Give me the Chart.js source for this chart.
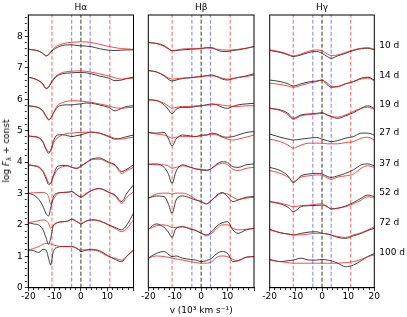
<!DOCTYPE html>
<html>
<head>
<meta charset="utf-8">
<script src="https://cdn.jsdelivr.net/npm/chart.js"></script>
<style>
  html, body { margin: 0; padding: 0; background: #fff; }
  #wrap { position: relative; width: 407px; height: 317px; overflow: hidden; font-family: 'DejaVu Sans'; }
  canvas { position: absolute; top: 0; }
  #ylab { position: absolute; left: 7px; top: 151px; transform: translate(-50%, -50%) rotate(-90deg);
          white-space: nowrap; font-size: 9px; color: #000; line-height: 1; }
  #ylab sub { font-size: 6.5px; vertical-align: -1.5px; }
</style>
</head>
<body>
<div id="wrap">
  <canvas id="cHa" width="140" height="317" style="left:0px"></canvas>
  <canvas id="cHb" width="120" height="317" style="left:140px"></canvas>
  <canvas id="cHg" width="147" height="317" style="left:260px"></canvas>
  <div id="ylab">log <i>F</i><sub>λ</sub> + const</div>
</div>
<script>
// epochs and the offset where each label sits
const epochs = ['10 d', '14 d', '19 d', '27 d', '37 d', '52 d', '72 d', '100 d'];
const epochY = [7.7, 6.75, 5.84, 4.95, 3.96, 3.04, 2.08, 1.13];

// reference velocities (10^3 km/s) marked with dashed lines
const markVel = [-11, -3.5, 0, 3.5, 11];

// H-alpha
const velHa = [-20, -18, -16, -14.5, -13.3, -12.3, -11.5, -10.5, -9, -7, -5, -3.5, -1.5, 0, 2, 4, 7, 10.5, 13, 15.5, 17.5, 20];
const haBlack = [
  [7.59, 7.57, 7.53, 7.46, 7.38, 7.41, 7.49, 7.57, 7.65, 7.71, 7.73, 7.73, 7.71, 7.70, 7.69, 7.67, 7.61, 7.56, 7.55, 7.56, 7.57, 7.57],
  [6.70, 6.66, 6.59, 6.49, 6.35, 6.38, 6.49, 6.61, 6.74, 6.81, 6.83, 6.84, 6.85, 6.85, 6.84, 6.81, 6.74, 6.67, 6.59, 6.61, 6.66, 6.70],
  [5.79, 5.77, 5.73, 5.64, 5.47, 5.36, 5.39, 5.55, 5.74, 5.81, 5.82, 5.82, 5.84, 5.85, 5.88, 5.87, 5.82, 5.74, 5.63, 5.71, 5.77, 5.79],
  [4.83, 4.81, 4.78, 4.65, 4.41, 4.28, 4.36, 4.65, 4.86, 4.87, 4.84, 4.81, 4.84, 4.86, 4.92, 4.95, 4.92, 4.81, 4.73, 4.76, 4.81, 4.86],
  [3.91, 3.88, 3.83, 3.70, 3.48, 3.29, 3.32, 3.56, 3.85, 3.89, 3.88, 3.83, 3.80, 3.88, 3.98, 4.09, 4.13, 4.00, 3.91, 3.70, 3.77, 3.91],
  [3.01, 2.95, 2.81, 2.60, 2.37, 2.28, 2.53, 2.88, 3.01, 3.03, 3.04, 3.06, 2.95, 2.88, 2.98, 3.09, 3.16, 3.04, 2.95, 2.74, 3.01, 3.27],
  [2.07, 2.03, 1.99, 1.86, 1.60, 1.38, 1.57, 1.97, 2.07, 2.10, 2.12, 2.18, 2.10, 2.03, 2.12, 2.16, 2.13, 2.00, 1.92, 1.84, 2.00, 2.37],
  [1.20, 1.18, 1.12, 1.22, 1.20, 0.94, 0.72, 1.15, 1.28, 1.31, 1.31, 1.31, 1.25, 1.15, 1.20, 1.22, 1.18, 1.01, 0.90, 0.83, 1.01, 1.20]
];
const haRed = [
  [7.59, 7.57, 7.53, 7.46, 7.38, 7.43, 7.52, 7.61, 7.70, 7.76, 7.80, 7.81, 7.82, 7.83, 7.82, 7.80, 7.75, 7.68, 7.64, 7.61, 7.60, 7.59],
  [6.70, 6.66, 6.58, 6.48, 6.34, 6.38, 6.51, 6.65, 6.77, 6.85, 6.88, 6.89, 6.90, 6.90, 6.89, 6.86, 6.81, 6.74, 6.68, 6.64, 6.66, 6.67],
  [5.79, 5.77, 5.72, 5.61, 5.45, 5.34, 5.38, 5.55, 5.79, 5.89, 5.94, 5.95, 5.95, 5.94, 5.92, 5.90, 5.85, 5.79, 5.73, 5.71, 5.73, 5.74],
  [4.83, 4.81, 4.77, 4.65, 4.44, 4.33, 4.36, 4.58, 4.76, 4.86, 4.91, 4.92, 4.94, 4.94, 4.95, 4.95, 4.92, 4.83, 4.75, 4.73, 4.76, 4.79],
  [3.91, 3.89, 3.85, 3.73, 3.54, 3.34, 3.32, 3.52, 3.75, 3.85, 3.88, 3.83, 3.80, 3.85, 3.98, 4.07, 4.09, 3.98, 3.88, 3.64, 3.73, 3.83],
  [3.01, 3.02, 3.03, 3.03, 3.01, 2.90, 2.66, 2.81, 2.98, 3.03, 3.04, 3.06, 2.95, 2.90, 3.01, 3.09, 3.15, 3.04, 2.92, 2.69, 2.88, 3.06],
  [2.07, 2.10, 2.13, 2.16, 2.13, 2.05, 1.89, 1.97, 2.07, 2.10, 2.12, 2.18, 2.10, 2.05, 2.12, 2.16, 2.13, 2.00, 1.89, 1.78, 1.89, 2.16],
  [1.20, 1.25, 1.31, 1.38, 1.41, 1.41, 1.39, 1.36, 1.33, 1.31, 1.31, 1.31, 1.25, 1.20, 1.20, 1.20, 1.15, 0.99, 0.94, 0.88, 1.01, 1.20]
];

// H-beta
const velHb = [-20, -17, -14, -12.5, -11, -9.5, -7, -4, -2, 0, 2, 4, 6, 8, 10, 12, 14, 17, 20];
const hbBlack = [
  [7.80, 7.78, 7.70, 7.62, 7.54, 7.55, 7.57, 7.59, 7.60, 7.61, 7.64, 7.64, 7.57, 7.52, 7.52, 7.55, 7.57, 7.62, 7.68],
  [6.91, 6.87, 6.74, 6.64, 6.58, 6.61, 6.66, 6.68, 6.70, 6.72, 6.75, 6.77, 6.72, 6.64, 6.61, 6.65, 6.69, 6.74, 6.81],
  [5.98, 5.96, 5.82, 5.68, 5.53, 5.68, 5.74, 5.74, 5.77, 5.79, 5.82, 5.85, 5.82, 5.74, 5.71, 5.77, 5.82, 5.85, 5.87],
  [4.94, 4.92, 4.94, 4.76, 4.51, 4.73, 4.86, 4.83, 4.81, 4.86, 4.86, 4.92, 4.89, 4.81, 4.79, 4.81, 4.86, 4.94, 4.97],
  [3.93, 3.94, 3.83, 3.64, 3.32, 3.70, 3.91, 3.83, 3.78, 3.75, 3.73, 3.80, 3.94, 4.01, 3.98, 3.85, 3.83, 3.91, 3.94],
  [2.85, 2.92, 2.90, 2.69, 2.37, 2.79, 2.92, 2.85, 2.79, 2.74, 2.67, 2.79, 2.95, 3.03, 2.90, 2.74, 2.79, 2.88, 2.90],
  [1.86, 2.03, 1.92, 1.78, 1.60, 1.89, 1.94, 1.86, 1.82, 1.73, 1.68, 1.78, 1.97, 2.07, 2.10, 1.84, 1.73, 1.84, 1.89],
  [0.94, 1.09, 1.15, 1.07, 0.99, 1.01, 0.94, 0.90, 0.88, 0.83, 0.86, 0.94, 1.09, 1.15, 1.09, 0.83, 0.86, 0.97, 0.99]
];
const hbRed = [
  [7.80, 7.77, 7.68, 7.60, 7.55, 7.56, 7.60, 7.61, 7.61, 7.62, 7.63, 7.62, 7.59, 7.57, 7.56, 7.57, 7.59, 7.62, 7.67],
  [6.91, 6.87, 6.76, 6.68, 6.64, 6.65, 6.67, 6.69, 6.71, 6.73, 6.74, 6.74, 6.72, 6.67, 6.64, 6.66, 6.69, 6.72, 6.77],
  [5.98, 5.96, 5.87, 5.79, 5.71, 5.74, 5.77, 5.77, 5.79, 5.79, 5.81, 5.82, 5.84, 5.81, 5.79, 5.77, 5.77, 5.79, 5.79],
  [4.94, 4.89, 4.86, 4.81, 4.76, 4.79, 4.81, 4.81, 4.81, 4.83, 4.86, 4.88, 4.86, 4.79, 4.73, 4.70, 4.73, 4.79, 4.86],
  [3.93, 3.91, 3.91, 3.88, 3.80, 3.83, 3.88, 3.83, 3.78, 3.77, 3.75, 3.80, 3.91, 3.96, 3.91, 3.77, 3.73, 3.80, 3.83],
  [2.85, 2.98, 3.01, 3.01, 2.98, 3.01, 3.01, 2.92, 2.81, 2.74, 2.67, 2.79, 2.92, 3.01, 2.98, 2.88, 2.81, 2.85, 2.88],
  [1.86, 1.97, 2.00, 1.97, 1.92, 1.92, 1.94, 1.89, 1.82, 1.75, 1.65, 1.73, 1.89, 2.00, 2.00, 1.89, 1.84, 1.86, 1.89],
  [0.94, 1.01, 0.99, 0.97, 0.94, 0.92, 0.88, 0.83, 0.80, 0.78, 0.78, 0.83, 0.97, 1.01, 0.99, 0.90, 0.86, 0.97, 0.99]
];

// H-gamma
const velHg = [-20, -16, -13, -11, -8, -5, -2, 0, 2, 3.5, 6, 9, 12, 15, 17.5, 20];
const hgBlack = [
  [7.55, 7.49, 7.41, 7.36, 7.41, 7.49, 7.52, 7.46, 7.36, 7.30, 7.38, 7.46, 7.55, 7.61, 7.62, 7.57],
  [6.61, 6.56, 6.49, 6.42, 6.49, 6.55, 6.58, 6.61, 6.46, 6.38, 6.40, 6.49, 6.56, 6.67, 6.70, 6.61],
  [5.71, 5.66, 5.55, 5.39, 5.50, 5.53, 5.55, 5.57, 5.50, 5.45, 5.39, 5.47, 5.57, 5.71, 5.79, 5.71],
  [4.89, 4.79, 4.73, 4.70, 4.73, 4.76, 4.78, 4.73, 4.68, 4.65, 4.68, 4.76, 4.81, 4.92, 4.92, 4.86],
  [3.83, 3.73, 3.56, 3.35, 3.56, 3.62, 3.64, 3.62, 3.54, 3.51, 3.56, 3.64, 3.75, 3.91, 3.94, 3.88],
  [2.74, 2.67, 2.56, 2.42, 2.58, 2.61, 2.62, 2.63, 2.58, 2.51, 2.53, 2.60, 2.71, 2.85, 2.95, 2.90],
  [1.86, 1.75, 1.71, 1.68, 1.73, 1.77, 1.78, 1.73, 1.71, 1.68, 1.60, 1.57, 1.65, 1.73, 1.82, 1.89],
  [0.90, 0.83, 0.86, 0.88, 0.94, 0.88, 0.88, 0.90, 0.88, 0.86, 0.78, 0.67, 0.72, 0.86, 0.99, 1.09]
];
const hgRed = [
  [7.57, 7.51, 7.43, 7.38, 7.44, 7.53, 7.57, 7.54, 7.44, 7.39, 7.41, 7.49, 7.57, 7.62, 7.64, 7.59],
  [6.51, 6.47, 6.42, 6.38, 6.44, 6.51, 6.56, 6.61, 6.51, 6.42, 6.40, 6.49, 6.56, 6.64, 6.67, 6.59],
  [5.71, 5.64, 5.50, 5.36, 5.47, 5.51, 5.53, 5.55, 5.50, 5.45, 5.43, 5.50, 5.61, 5.71, 5.74, 5.68],
  [4.73, 4.65, 4.54, 4.44, 4.54, 4.60, 4.60, 4.60, 4.58, 4.58, 4.58, 4.62, 4.65, 4.76, 4.79, 4.70],
  [3.73, 3.64, 3.52, 3.38, 3.52, 3.56, 3.59, 3.58, 3.49, 3.45, 3.52, 3.56, 3.62, 3.80, 3.88, 3.83],
  [2.74, 2.69, 2.63, 2.58, 2.61, 2.63, 2.66, 2.67, 2.58, 2.50, 2.53, 2.58, 2.67, 2.79, 2.90, 2.85],
  [1.84, 1.75, 1.71, 1.68, 1.68, 1.71, 1.73, 1.73, 1.71, 1.67, 1.63, 1.60, 1.68, 1.75, 1.84, 1.94],
  [0.88, 0.83, 0.80, 0.78, 0.78, 0.78, 0.78, 0.78, 0.78, 0.78, 0.78, 0.80, 0.83, 0.90, 0.99, 1.04]
];

Chart.defaults.font.family = 'DejaVu Sans';
Chart.defaults.font.size = 9;
Chart.defaults.color = '#000';

const markColors = ['rgba(235,0,0,0.75)', 'rgba(40,40,255,0.75)', '#000', 'rgba(40,40,255,0.75)', 'rgba(235,0,0,0.75)'];
const yTop = 8.68;

const isWhole = v => Math.abs(v - Math.round(v)) < 1e-6;

// box around the plot area
const framePlugin = {
  id: 'frame',
  afterDatasetsDraw(chart) {
    const a = chart.chartArea, c = chart.ctx;
    c.save();
    c.strokeStyle = '#000';
    c.lineWidth = 1;
    c.strokeRect(a.left, a.top, a.right - a.left, a.bottom - a.top);
    c.restore();
  }
};

// epoch labels to the right of the last panel
const epochPlugin = {
  id: 'epochs',
  afterDraw(chart) {
    const c = chart.ctx, ys = chart.scales.y;
    c.save();
    c.font = '9px "DejaVu Sans"';
    c.fillStyle = '#000';
    c.textAlign = 'left';
    c.textBaseline = 'middle';
    epochs.forEach((t, i) => c.fillText(t, chart.chartArea.right + 5, ys.getPixelForValue(epochY[i])));
    c.restore();
  }
};

function spectrum(vel, vals, color, order) {
  return {
    data: vel.map((v, j) => ({ x: v, y: vals[j] })),
    borderColor: color,
    borderWidth: 0.9,
    pointRadius: 0,
    cubicInterpolationMode: 'monotone',
    order: order
  };
}

function montarPainel(id, titulo, vel, black, red, cfg) {
  const datasets = [];
  markVel.forEach((v, i) => {
    datasets.push({
      data: [{ x: v, y: 0 }, { x: v, y: yTop }],
      borderColor: markColors[i],
      borderWidth: 0.8,
      borderDash: [4, 2],
      pointRadius: 0,
      order: 3
    });
  });
  for (let i = 0; i < epochs.length; i++) {
    datasets.push(spectrum(vel, black[i], 'rgba(20,20,20,0.9)', 2));
    datasets.push(spectrum(vel, red[i], 'rgba(240,20,20,0.85)', 1));
  }

  new Chart(document.getElementById(id), {
    type: 'line',
    data: { datasets: datasets },
    options: {
      responsive: false,
      animation: false,
      layout: { padding: { left: cfg.padLeft, right: cfg.padRight, top: 0, bottom: 0 } },
      plugins: {
        legend: { display: false },
        tooltip: { enabled: false },
        title: {
          display: true,
          text: titulo,
          fullSize: false,
          font: { size: 9, weight: 'normal' },
          padding: { top: 2, bottom: 2.2 }
        }
      },
      scales: {
        x: {
          type: 'linear',
          min: -20,
          max: 20,
          ticks: {
            stepSize: 2,
            autoSkip: false,
            includeBounds: false,
            maxRotation: 0,
            padding: 0,
            callback: v => (v % 10 === 0 && (v < 20 || cfg.show20)) ? v : ''
          },
          grid: {
            drawOnChartArea: false,
            tickLength: 3.5,
            tickColor: '#000',
            tickWidth: 0.8,
            tickBorderDash: ctx => isWhole(ctx.tick.value / 10) ? [] : [2, 20]
          },
          border: { color: '#000', width: 1 },
          title: {
            display: cfg.xTitle,
            text: 'v (10³ km s⁻¹)',
            font: { size: 9 },
            padding: { top: 0, bottom: 0.6 }
          },
          afterFit: s => { s.height = 29.3; }
        },
        y: {
          type: 'linear',
          min: 0,
          max: yTop,
          display: cfg.showY,
          ticks: {
            stepSize: 0.2,
            autoSkip: false,
            includeBounds: false,
            padding: 2,
            callback: v => isWhole(v) ? Math.round(v) : ''
          },
          grid: {
            drawOnChartArea: false,
            tickLength: 3.5,
            tickColor: '#000',
            tickWidth: 0.8,
            tickBorderDash: ctx => isWhole(ctx.tick.value) ? [] : [2, 20]
          },
          border: { color: '#000', width: 1 },
          afterFit: s => { s.width = cfg.showY ? 28.3 : 0; }
        }
      }
    },
    plugins: cfg.epochLabels ? [framePlugin, epochPlugin] : [framePlugin]
  });
}

montarPainel('cHa', 'Hα', velHa, haBlack, haRed,
  { padLeft: 0, padRight: 6.5, showY: true, xTitle: false, show20: false, epochLabels: false });
montarPainel('cHb', 'Hβ', velHb, hbBlack, hbRed,
  { padLeft: 8.3, padRight: 6, showY: false, xTitle: true, show20: false, epochLabels: false });
montarPainel('cHg', 'Hγ', velHg, hgBlack, hgRed,
  { padLeft: 9.7, padRight: 32.7, showY: false, xTitle: false, show20: true, epochLabels: true });
</script>
</body>
</html>
